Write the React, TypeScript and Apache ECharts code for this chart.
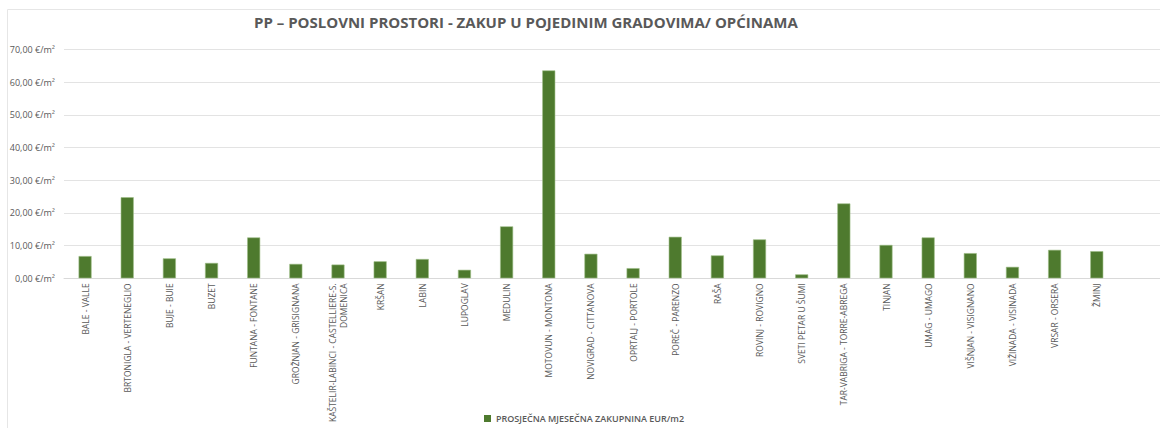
import React, { useEffect, useRef } from "react";
import * as echarts from "echarts";

const title = "PP – POSLOVNI PROSTORI - ZAKUP U POJEDINIM GRADOVIMA/ OPĆINAMA";
const seriesName = "PROSJEČNA MJESEČNA ZAKUPNINA EUR/m2";
const categories = [
  "BALE - VALLE",
  "BRTONIGLA - VERTENEGLIO",
  "BUJE - BUIE",
  "BUZET",
  "FUNTANA - FONTANE",
  "GROŽNJAN - GRISIGNANA",
  "KAŠTELIR-LABINCI - CASTELLIERE-S.\nDOMENICA",
  "KRŠAN",
  "LABIN",
  "LUPOGLAV",
  "MEDULIN",
  "MOTOVUN - MONTONA",
  "NOVIGRAD - CITTANOVA",
  "OPRTALJ - PORTOLE",
  "POREČ - PARENZO",
  "RAŠA",
  "ROVINJ - ROVIGNO",
  "SVETI PETAR U ŠUMI",
  "TAR-VABRIGA - TORRE-ABREGA",
  "TINJAN",
  "UMAG - UMAGO",
  "VIŠNJAN - VISIGNANO",
  "VIŽINADA - VISINADA",
  "VRSAR - ORSERA",
  "ŽMINJ",
];
const values = [
  6.8, 24.8, 6.1, 4.7, 12.5, 4.4, 4.2, 5.2, 5.9, 2.6, 15.9, 63.6, 7.5, 3.1,
  12.7, 7.0, 11.9, 1.2, 22.9, 10.2, 12.5, 7.7, 3.5, 8.7, 8.3,
];
const yMin = 0;
const yMax = 70;
const yInterval = 10;

const FONT = "'Open Sans', 'Noto Sans', sans-serif";
const TXT = "#595959";

export default function App() {
  const ref = useRef<HTMLDivElement>(null);
  useEffect(() => {
    if (!ref.current) return;
    const chart = echarts.init(ref.current, undefined, { renderer: "svg" });
    chart.setOption({
      animation: false,
      backgroundColor: "#ffffff",
      textStyle: { fontFamily: FONT },
      title: {
        text: title,
        left: 249,
        top: 9,
        textStyle: { fontSize: 15, fontWeight: "bold", color: TXT, fontFamily: FONT },
      },
      graphic: [
        {
          type: "rect",
          shape: { x: 7.5, y: 9.5, width: 1200, height: 500 },
          style: { fill: "none", stroke: "#e6e6e6", lineWidth: 1 },
          silent: true,
          z: -10,
        },
      ],
      legend: {
        data: [seriesName],
        left: 479,
        top: 409,
        itemWidth: 7,
        itemHeight: 7,
        itemGap: 3,
        icon: "rect",
        itemStyle: { borderWidth: 0 },
        textStyle: { fontSize: 9, color: TXT, fontWeight: 600, fontFamily: FONT },
      },
      grid: { left: 64, width: 1104, top: 49.5, bottom: 149.7, containLabel: false },
      xAxis: {
        type: "category",
        data: categories,
        max: categories.length,
        axisLine: { lineStyle: { color: "#d9d9d9" } },
        axisTick: { show: false },
        axisLabel: {
          rotate: 90,
          interval: 0,
          margin: 5,
          fontSize: 8.5,
          color: TXT,
          align: "right",
          lineHeight: 11,
          formatter: (v: string) => (v === undefined || v === null ? "" : v),
        },
      },
      yAxis: {
        type: "value",
        min: yMin,
        max: yMax,
        interval: yInterval,
        axisLine: { show: false },
        axisTick: { show: false },
        splitLine: { lineStyle: { color: "#e3e3e3" } },
        axisLabel: {
          fontSize: 9,
          color: TXT,
          margin: 9,
          formatter: (v: number) => v.toFixed(2).replace(".", ",") + " €/m²",
        },
      },
      series: [
        {
          name: seriesName,
          type: "bar",
          data: values,
          barWidth: 13,
          itemStyle: { color: "#4E7A2E", borderColor: "#9DBE86", borderWidth: 0.6 },
        },
      ],
    });
    return () => chart.dispose();
  }, []);
  return (
    <div
      ref={ref}
      style={{ position: "fixed", left: 0, top: 0, width: 1160, height: 428 }}
    />
  );
}
